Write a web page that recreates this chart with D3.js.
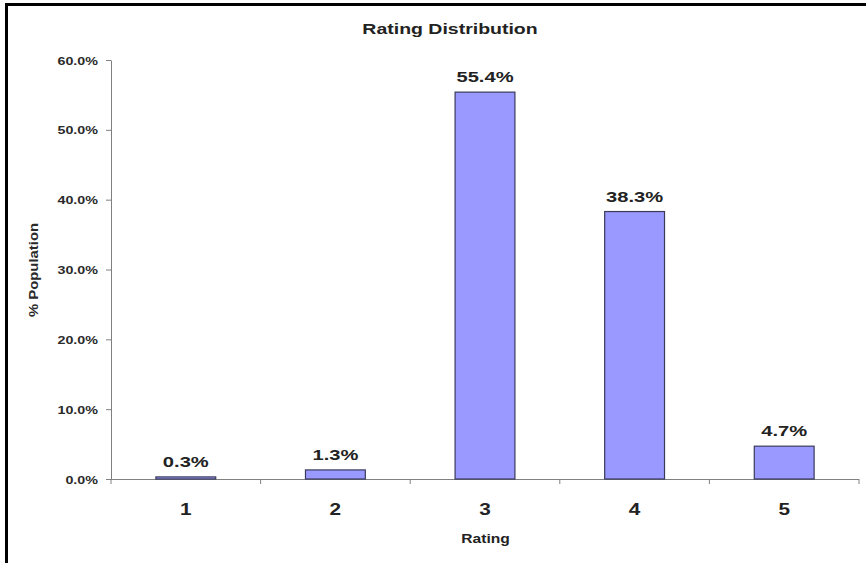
<!DOCTYPE html>
<html>
<head>
<meta charset="utf-8">
<script src="https://cdn.jsdelivr.net/npm/d3@7"></script>
<style>
  html, body { margin: 0; padding: 0; background: #fff; }
  svg { display: block; font-family: Arial, "Liberation Sans", sans-serif; }
</style>
</head>
<body>
<svg id="chart" width="866" height="563"></svg>
<script>
// Rating distribution data
const ratings = ["1", "2", "3", "4", "5"];
const populationPct = [0.3, 1.3, 55.4, 38.3, 4.7];
const yTicks = [0, 10, 20, 30, 40, 50, 60];

const svg = d3.select("#chart");
const W = 866, H = 563;
const FONT = "Arial, 'Liberation Sans', sans-serif";
const SX = 1.3; // horizontal widening of the lettering

const plotLeft = 111, plotRight = 859, plotTop = 60, plotBottom = 479;

// Background and frame lines (top and left)
svg.append("rect").attr("width", W).attr("height", H).attr("fill", "#fff");
svg.append("line").attr("x1", 5).attr("x2", W).attr("y1", 4.5).attr("y2", 4.5)
  .attr("stroke", "#000").attr("stroke-width", 3);
svg.append("line").attr("x1", 6.5).attr("x2", 6.5).attr("y1", 3).attr("y2", H)
  .attr("stroke", "#000").attr("stroke-width", 3);

const x = d3.scaleBand().domain(ratings).range([plotLeft, plotRight])
  .paddingInner(0.6).paddingOuter(0.3);
const y = d3.scaleLinear().domain([0, 60]).range([plotBottom, plotTop]);

// Widened text helper
function label(parent, tx, ty, str, size, opts = {}) {
  return parent.append("text")
    .attr("transform", `translate(${tx},${ty}) ${opts.rotate ? `rotate(${opts.rotate})` : ""} scale(${opts.sx || SX},1)`)
    .attr("text-anchor", opts.anchor || "middle")
    .attr("font-family", FONT)
    .attr("font-size", size)
    .attr("font-weight", "bold")
    .attr("fill", opts.fill || "#222")
    .text(str);
}

// Title
label(svg, 450, 34, "Rating Distribution", 15);

// Y axis
const yAxis = svg.append("g").attr("transform", `translate(${plotLeft},0)`)
  .call(d3.axisLeft(y).tickValues(yTicks).tickSize(5).tickSizeOuter(0)
    .tickFormat(d => d.toFixed(1) + "%"));
yAxis.select(".domain").attr("stroke", "#808080");
yAxis.selectAll(".tick line").attr("stroke", "#808080");
yAxis.selectAll(".tick text")
  .attr("x", null).attr("dy", null)
  .attr("transform", `translate(-13,4) scale(${SX},1)`)
  .attr("text-anchor", "end")
  .attr("font-family", FONT).attr("font-size", 11).attr("font-weight", "bold")
  .attr("fill", "#2a2a2a");

// X axis with ticks on category boundaries
const n = ratings.length;
const bounds = d3.range(n + 1).map(i => plotLeft + i * (plotRight - plotLeft) / n);
const xg = svg.append("g");
xg.append("line").attr("x1", plotLeft).attr("x2", plotRight)
  .attr("y1", y(0) + 0.5).attr("y2", y(0) + 0.5).attr("stroke", "#808080");
xg.selectAll("line.tk").data(bounds).join("line").attr("class", "tk")
  .attr("x1", d => d).attr("x2", d => d)
  .attr("y1", y(0)).attr("y2", y(0) + 5).attr("stroke", "#808080");
ratings.forEach(r => label(xg, x(r) + x.bandwidth() / 2, 515, r, 16));

// Bars
svg.selectAll("rect.bar").data(ratings).join("rect").attr("class", "bar")
  .attr("x", d => x(d)).attr("width", x.bandwidth())
  .attr("y", (d, i) => y(populationPct[i]))
  .attr("height", (d, i) => y(0) - y(populationPct[i]))
  .attr("fill", "#9999ff").attr("stroke", "#3a3a5a").attr("stroke-width", 1.2);

// Value labels
ratings.forEach((r, i) =>
  label(svg, x(r) + x.bandwidth() / 2, y(populationPct[i]) - 10,
    populationPct[i].toFixed(1) + "%", 15.5));

// Axis titles
label(svg, 485.5, 543, "Rating", 12);
label(svg, 38, 270, "% Population", 12, { rotate: -90, sx: 1.24, fill: "#2a2a2a" });
</script>
</body>
</html>
